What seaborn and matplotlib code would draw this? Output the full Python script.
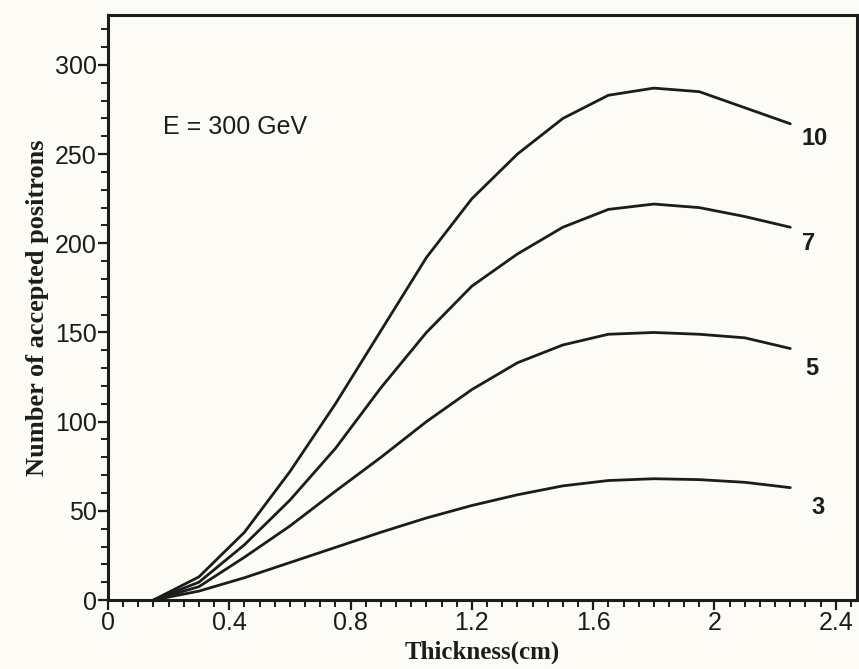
import numpy as np
import pandas as pd
import matplotlib
matplotlib.use("Agg")
import matplotlib.pyplot as plt
from matplotlib.ticker import MultipleLocator
import seaborn as sns

# -----------------------------
# Data
# -----------------------------
thickness = [0.15, 0.30, 0.45, 0.60, 0.75, 0.90, 1.05, 1.20,
             1.35, 1.50, 1.65, 1.80, 1.95, 2.10, 2.25]

pos_10 = [0, 13, 38, 72, 110, 151, 192, 225, 250, 270, 283, 287, 285, 276, 267]
pos_7 = [0, 10, 31, 56, 85, 119, 150, 176, 194, 209, 219, 222, 220, 215, 209]
pos_5 = [0, 7.5, 24, 41.5, 61, 80, 100, 118, 133, 143, 149, 150, 149, 147, 141]
pos_3 = [0, 5, 12.5, 21, 29.5, 38, 46, 53, 59, 64, 67, 68, 67.5, 66, 63]

series_names = ["10", "7", "5", "3"]
label_x = [2.33, 2.31, 2.32, 2.34]
label_y = [259, 200, 130, 52]

df = pd.DataFrame({
    "thickness": thickness * 4,
    "positrons": pos_10 + pos_7 + pos_5 + pos_3,
    "n": [s for s in series_names for _ in thickness],
})

# -----------------------------
# Plot
# -----------------------------
sns.set_style("ticks")
plt.rcParams["font.family"] = ["Liberation Sans", "DejaVu Sans"]

paper = "#fcfbf6"
ink = "#1c1c1c"

fig = plt.figure(figsize=(8.59, 6.69), dpi=100, facecolor=paper)
ax = fig.add_axes([0.1257, 0.1031, 0.872, 0.8745])
ax.set_facecolor(paper)

sns.lineplot(
    data=df, x="thickness", y="positrons", hue="n",
    palette={s: ink for s in series_names},
    linewidth=2.0, legend=False, ax=ax
)

for name, lx, ly in zip(series_names, label_x, label_y):
    ax.text(lx, ly, name, fontsize=17, fontweight="bold", color=ink,
            ha="center", va="center")

ax.text(0.18, 265, "E = 300 GeV", fontsize=18, color=ink,
        ha="left", va="center")

ax.set_xlim(0, 2.47)
ax.set_ylim(0, 328)
ax.xaxis.set_major_locator(MultipleLocator(0.4))
ax.xaxis.set_minor_locator(MultipleLocator(0.05))
ax.yaxis.set_major_locator(MultipleLocator(50))
ax.yaxis.set_minor_locator(MultipleLocator(10))
ax.set_xticks([0, 0.4, 0.8, 1.2, 1.6, 2.0, 2.4])
ax.set_xticklabels(["0", "0.4", "0.8", "1.2", "1.6", "2", "2.4"])

ax.tick_params(which="major", direction="out", length=7, width=1.6,
               color=ink, labelsize=18, labelcolor=ink, pad=1)
ax.tick_params(which="minor", direction="out", length=5, width=1.4, color=ink)

for sp in ax.spines.values():
    sp.set_visible(True)
    sp.set_linewidth(2.2)
    sp.set_color(ink)

ax.set_xlabel("Thickness(cm)", family=["Liberation Serif"], fontweight="bold",
              fontsize=18, color=ink, labelpad=4)
ax.set_ylabel("Number of accepted positrons", family=["Liberation Serif"],
              fontweight="bold", fontsize=19, color=ink, labelpad=4)

fig.savefig("out.png", dpi=100, facecolor=paper)
